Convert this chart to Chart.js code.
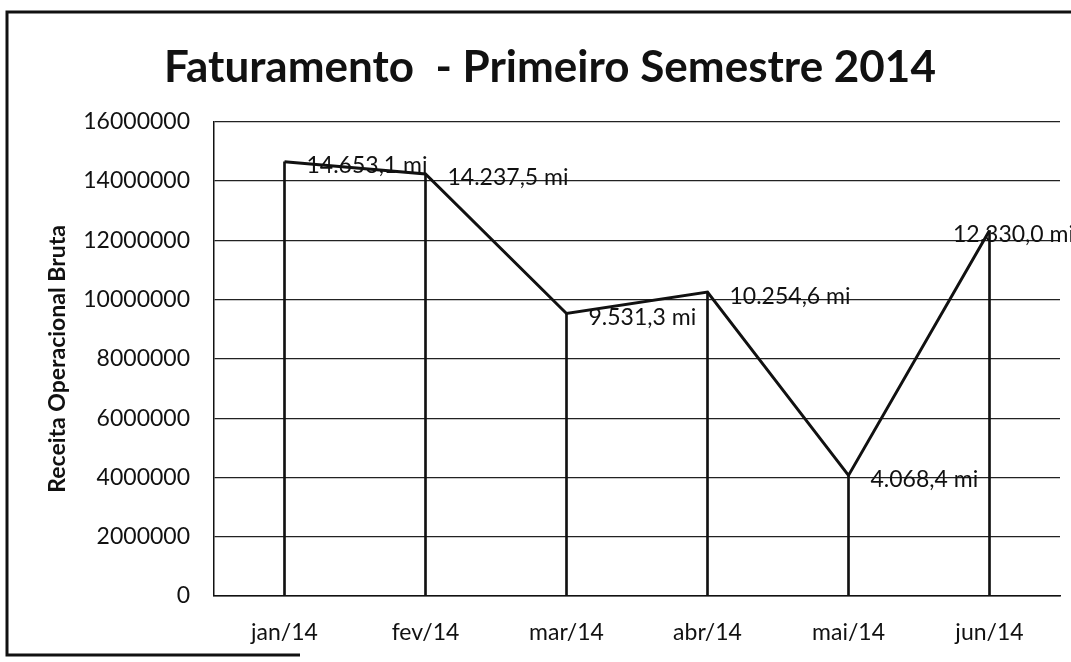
<!DOCTYPE html>
<html>
<head>
<meta charset="utf-8">
<script src="https://cdn.jsdelivr.net/npm/chart.js@4/dist/chart.umd.min.js"></script>
<style>
  html, body { margin: 0; padding: 0; background: #fff; }
  #wrap { width: 1071px; height: 662px; position: relative; }
</style>
</head>
<body>
<div id="wrap"><canvas id="chart"></canvas></div>
<script>
// dados do grafico
const meses = ['jan/14', 'fev/14', 'mar/14', 'abr/14', 'mai/14', 'jun/14']
const receita = [14653100, 14237500, 9531300, 10254600, 4068400, 12330000]
const yTicks = [0, 2000000, 4000000, 6000000, 8000000, 10000000, 12000000, 14000000, 16000000]

const FONT = 'Lato, "Open Sans", sans-serif'

// 14653100 -> "14.653,1 mi"
const formatMi = (v) => {
  const mil = Math.round(v / 100) / 10
  const parts = mil.toFixed(1).split('.')
  const inteiro = parts[0].replace(/\B(?=(\d{3})+(?!\d))/g, '.')
  return inteiro + ',' + parts[1] + ' mi'
}

// moldura externa
const framePlugin = {
  id: 'frame',
  beforeDraw(chart) {
    const ctx = chart.ctx
    ctx.save()
    ctx.fillStyle = '#fff'
    ctx.fillRect(0, 0, chart.width, chart.height)
    ctx.strokeStyle = '#111'
    ctx.lineWidth = 3
    ctx.beginPath()
    ctx.moveTo(chart.width + 5, 12)
    ctx.lineTo(7, 12)
    ctx.lineTo(7, 655)
    ctx.lineTo(300, 655)
    ctx.stroke()
    ctx.restore()
  },
}

// rotulos dos pontos
const labelPlugin = {
  id: 'pointLabels',
  afterDatasetsDraw(chart) {
    const meta = chart.getDatasetMeta(1)
    const ctx = chart.ctx
    ctx.save()
    ctx.font = '23px ' + FONT
    ctx.fillStyle = '#111'
    ctx.textBaseline = 'middle'
    ctx.textAlign = 'left'
    meta.data.forEach((pt, i) => {
      const txt = formatMi(receita[i])
      const w = ctx.measureText(txt).width
      const x = Math.min(pt.x + 22, chart.width + 3 - w)
      ctx.fillText(txt, x, pt.y + 4)
    })
    ctx.restore()
  },
}

const ctx = document.getElementById('chart').getContext('2d')
new Chart(ctx, {
  data: {
    labels: meses,
    datasets: [
      {
        // linhas verticais ate o eixo
        type: 'bar',
        data: receita,
        backgroundColor: '#111',
        barThickness: 2,
        order: 2,
      },
      {
        type: 'line',
        data: receita,
        borderColor: '#111',
        borderWidth: 3,
        pointRadius: 0,
        tension: 0,
        order: 1,
      },
    ],
  },
  plugins: [framePlugin, labelPlugin],
  options: {
    responsive: true,
    maintainAspectRatio: false,
    animation: false,
    layout: {
      padding: { left: 40, right: 11, top: 12, bottom: 10 },
    },
    plugins: {
      legend: { display: false },
      tooltip: { enabled: false },
      title: {
        display: true,
        text: 'Faturamento  - Primeiro Semestre 2014',
        color: '#111',
        font: { family: FONT, size: 44, weight: 'bold' },
        padding: { top: 29, bottom: 28 },
      },
    },
    scales: {
      x: {
        offset: true,
        grid: { display: false, drawTicks: false },
        border: { display: true, color: '#111', width: 1.5 },
        ticks: {
          color: '#111',
          padding: 23,
          font: { family: FONT, size: 23 },
        },
        afterFit: (scale) => { scale.height = 56 },
      },
      y: {
        min: 0,
        max: 16000000,
        afterBuildTicks: (scale) => {
          scale.ticks = yTicks.map((v) => ({ value: v }))
        },
        grid: { color: '#222', lineWidth: 1.2, drawTicks: false },
        border: { display: true, color: '#111', width: 1.5 },
        ticks: {
          color: '#111',
          padding: 24,
          font: { family: FONT, size: 23 },
          callback: (v) => String(v),
        },
        title: {
          display: true,
          text: 'Receita Operacional Bruta',
          color: '#111',
          font: { family: FONT, size: 23, weight: 'bold' },
        },
        afterFit: (scale) => { scale.width = 174 },
      },
    },
  },
})
</script>
</body>
</html>
